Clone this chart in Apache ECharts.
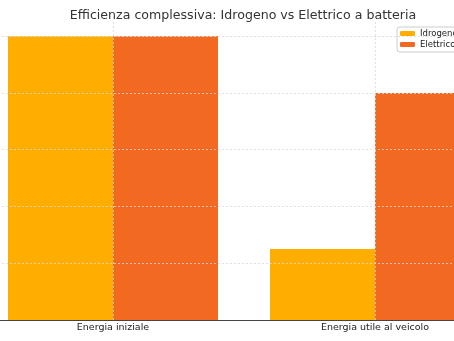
<!DOCTYPE html>
<html><head><meta charset="utf-8">
<script src="https://cdn.jsdelivr.net/npm/echarts@6/dist/echarts.min.js"></script>
<style>html,body{margin:0;padding:0;background:#fff}#c{width:454px;height:341px}</style>
</head><body><div id="c"></div>
<script>
const categories = ['Energia iniziale', 'Energia utile al veicolo'];
const idrogeno = [100, 25];
const elettrico = [100, 80];
const yTicks = [0, 20, 40, 60, 80, 100];
const seriesNames = ['Idrogeno', 'Elettrico'];

const chart = echarts.init(document.getElementById('c'));
const gridStyle = {color: '#d9d9d9', type: [2, 2], width: 0.8};
chart.setOption({
  animation: false,
  textStyle: {fontFamily: 'DejaVu Sans'},
  title: {
    text: 'Efficienza complessiva: Idrogeno vs Elettrico a batteria',
    left: 238, top: 4, textAlign: 'center',
    textStyle: {fontSize: 12.6, fontWeight: 'normal', color: '#333', fontFamily: 'DejaVu Sans'}
  },
  legend: {
    orient: 'vertical', left: 397, top: 27,
    itemWidth: 15, itemHeight: 5, itemGap: 2,
    padding: [2, 4, 3, 3],
    borderColor: '#cccccc', borderWidth: 1, borderRadius: 3,
    backgroundColor: '#fff',
    textStyle: {fontSize: 8.5, color: '#222', padding: [0, 0, 0, 0]},
    data: seriesNames
  },
  grid: {left: -18, right: -52, top: 22, bottom: 21, containLabel: false, outerBoundsMode: 'none'},
  xAxis: {
    type: 'category', data: categories,
    axisLine: {lineStyle: {color: '#444', width: 1}},
    axisTick: {show: false},
    axisLabel: {fontSize: 9.5, color: '#222', margin: 3},
    splitLine: {show: false}
  },
  yAxis: {
    type: 'value', min: 0, max: 105,
    axisLine: {show: false}, axisTick: {show: false}, axisLabel: {show: false},
    splitLine: {show: false}
  },
  series: [
    {name: seriesNames[0], type: 'bar', data: idrogeno, barWidth: 105, barGap: '0%',
     itemStyle: {color: '#FFAE00'}},
    {name: seriesNames[1], type: 'bar', data: elettrico, barWidth: 105, barGap: '0%',
     itemStyle: {color: '#F26A22'}},
    {name: 'grid', type: 'line', data: [], z: 10,
     markLine: {
       silent: true, symbol: 'none', label: {show: false},
       lineStyle: gridStyle,
       data: yTicks.filter(v => v > 0).map(v => ({yAxis: v}))
         .concat(categories.map(c => ({xAxis: c})))
     }}
  ]
});
</script></body></html>
